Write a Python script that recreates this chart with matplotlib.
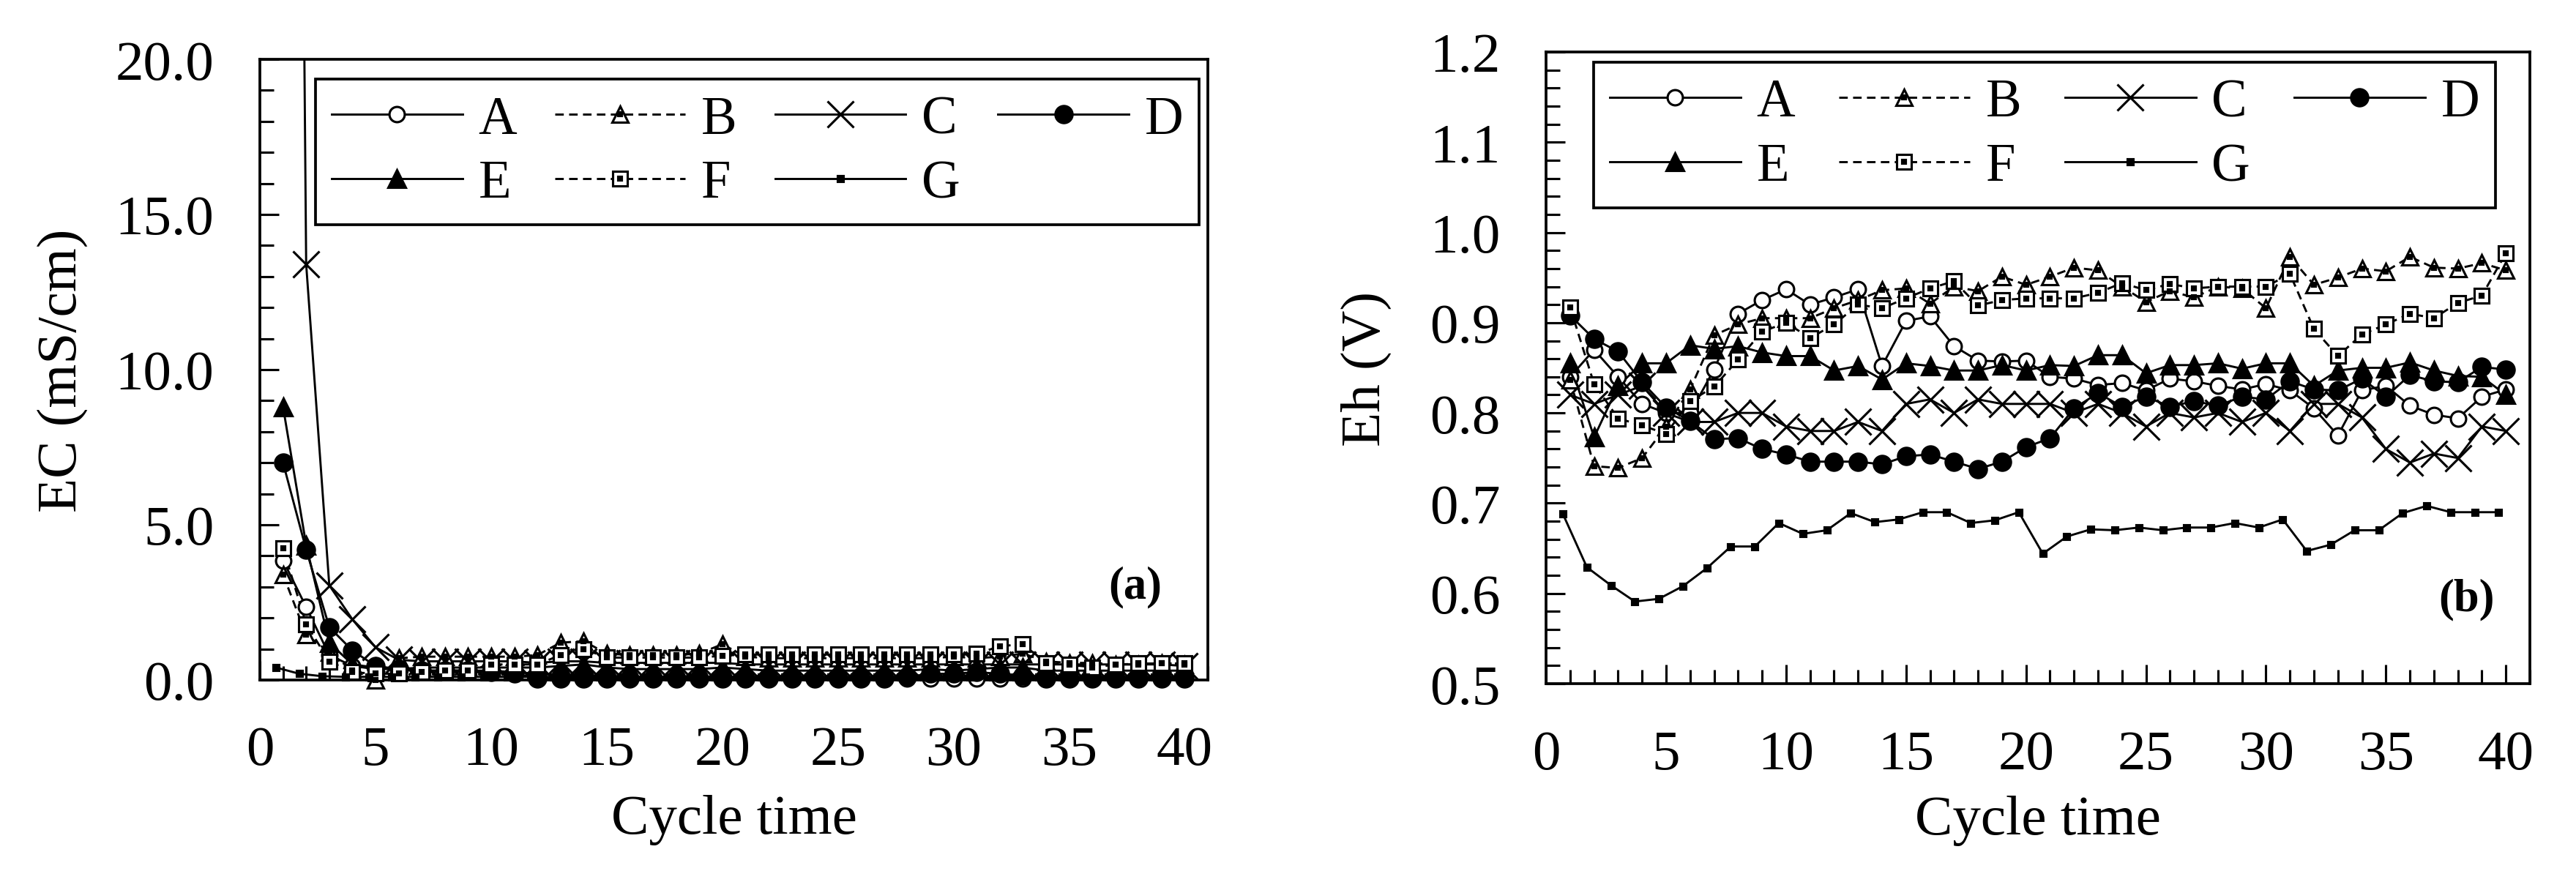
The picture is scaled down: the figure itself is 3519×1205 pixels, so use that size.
import numpy as np
import matplotlib
matplotlib.use("Agg")
import matplotlib.pyplot as plt
from matplotlib.lines import Line2D
from matplotlib.ticker import MultipleLocator, FormatStrFormatter

plt.rcParams["font.family"] = ["Liberation Serif", "DejaVu Serif"]

# ---------------------------------------------------------------- data
cycles = list(range(1, 41))
names = ["A", "B", "C", "D", "E", "F", "G"]

# (a) electrical conductivity, mS/cm
ec_A = [3.85, 2.35, 0.8, 0.45, 0.35, 0.35, 0.3, 0.3, 0.3, 0.3, 0.25, 0.2, 0.15, 0.15, 0.1,
        0.1, 0.1, 0.1, 0.1, 0.1, 0.1, 0.05, 0.05, 0.05, 0.05, 0.05, 0.05, 0.05, 0.05, 0.05,
        0.05, 0.05, 0.05, 0.05, 0.05, 0.05, 0.05, 0.05, 0.05, 0.05]
ec_B = [3.4, 1.45, 0.9, 0.3, 0.0, 0.7, 0.75, 0.75, 0.75, 0.75, 0.75, 0.8, 1.2, 1.25, 0.85,
        0.8, 0.8, 0.8, 0.85, 1.15, 0.75, 0.7, 0.7, 0.7, 0.7, 0.7, 0.7, 0.7, 0.7, 0.75,
        0.7, 0.75, 0.85, 0.6, 0.55, 0.55, 0.5, 0.5, 0.55, 0.5]
ec_C = [100.0, 13.4, 3.05, 1.95, 1.05, 0.65, 0.6, 0.6, 0.6, 0.6, 0.6, 0.55, 0.6, 0.6, 0.55,
        0.55, 0.55, 0.55, 0.55, 0.55, 0.5, 0.5, 0.5, 0.5, 0.5, 0.5, 0.5, 0.5, 0.5, 0.5,
        0.5, 0.5, 0.5, 0.5, 0.5, 0.5, 0.5, 0.5, 0.5, 0.45]
ec_D = [7.0, 4.2, 1.7, 0.95, 0.45, 0.35, 0.3, 0.3, 0.3, 0.25, 0.2, 0.05, 0.05, 0.05, 0.05,
        0.05, 0.05, 0.05, 0.05, 0.05, 0.05, 0.05, 0.05, 0.05, 0.05, 0.05, 0.05, 0.1, 0.2, 0.2,
        0.25, 0.2, 0.15, 0.05, 0.05, 0.05, 0.05, 0.05, 0.05, 0.05]
ec_E = [8.8, 4.35, 1.2, 0.5, 0.4, 0.35, 0.4, 0.4, 0.4, 0.4, 0.4, 0.4, 0.45, 0.5, 0.4,
        0.35, 0.35, 0.35, 0.35, 0.4, 0.35, 0.3, 0.3, 0.3, 0.3, 0.3, 0.3, 0.3, 0.35, 0.3,
        0.35, 0.4, 0.4, 0.3, 0.3, 0.3, 0.3, 0.3, 0.3, 0.3]
ec_F = [4.25, 1.8, 0.6, 0.25, 0.2, 0.2, 0.25, 0.3, 0.3, 0.5, 0.5, 0.5, 0.8, 1.0, 0.72,
        0.72, 0.72, 0.72, 0.72, 0.78, 0.82, 0.82, 0.82, 0.82, 0.82, 0.82, 0.82, 0.82, 0.82, 0.82,
        0.85, 1.08, 1.16, 0.53, 0.49, 0.41, 0.49, 0.53, 0.53, 0.53]
ec_G = [0.4, 0.2, 0.12, 0.1, 0.1, 0.1, 0.1, 0.1, 0.1, 0.1, 0.1, 0.1, 0.1, 0.1, 0.1,
        0.1, 0.1, 0.1, 0.1, 0.1, 0.1, 0.1, 0.1, 0.1, 0.1, 0.1, 0.1, 0.1, 0.1, 0.1,
        0.1, 0.1, 0.1, 0.1, 0.1, 0.1, 0.1, 0.1, 0.1, 0.1]

# (b) redox potential, V
eh_A = [0.84, 0.87, 0.84, 0.81, 0.80, 0.80, 0.848, 0.91, 0.925, 0.937, 0.92, 0.928, 0.937, 0.852, 0.902,
        0.907, 0.874, 0.858, 0.857, 0.858, 0.84, 0.838, 0.831, 0.833, 0.825, 0.838, 0.835, 0.83, 0.826, 0.832,
        0.825, 0.805, 0.775, 0.825, 0.83, 0.808, 0.798, 0.794, 0.818, 0.826]
eh_B = [0.837, 0.741, 0.739, 0.75, 0.785, 0.826, 0.886, 0.898, 0.905, 0.905, 0.905, 0.916, 0.925, 0.936, 0.938,
        0.921, 0.94, 0.935, 0.951, 0.942, 0.951, 0.961, 0.958, 0.94, 0.923, 0.935, 0.928, 0.94, 0.938, 0.916,
        0.973, 0.942, 0.95, 0.96, 0.957, 0.973, 0.961, 0.96, 0.966, 0.958]
eh_C = [0.82, 0.81, 0.82, 0.83, 0.80, 0.79, 0.79, 0.80, 0.80, 0.785, 0.78, 0.78, 0.79, 0.78, 0.81,
        0.815, 0.80, 0.815, 0.81, 0.81, 0.81, 0.80, 0.81, 0.80, 0.785, 0.80, 0.795, 0.80, 0.79, 0.80,
        0.78, 0.81, 0.81, 0.795, 0.76, 0.745, 0.755, 0.75, 0.785, 0.78]
eh_D = [0.908, 0.882, 0.868, 0.834, 0.806, 0.791, 0.771, 0.772, 0.76, 0.754, 0.746, 0.746, 0.746, 0.743, 0.752,
        0.754, 0.746, 0.738, 0.746, 0.762, 0.772, 0.805, 0.822, 0.807, 0.818, 0.807, 0.813, 0.808, 0.818, 0.815,
        0.835, 0.826, 0.825, 0.838, 0.818, 0.842, 0.835, 0.834, 0.851, 0.848]
eh_E = [0.855, 0.773, 0.83, 0.855, 0.855, 0.875, 0.871, 0.874, 0.867, 0.863, 0.863, 0.847, 0.852, 0.837, 0.855,
        0.852, 0.847, 0.847, 0.853, 0.847, 0.853, 0.852, 0.864, 0.864, 0.844, 0.853, 0.853, 0.855, 0.849, 0.855,
        0.855, 0.83, 0.847, 0.85, 0.85, 0.856, 0.847, 0.841, 0.84, 0.82]
eh_F = [0.917, 0.832, 0.794, 0.786, 0.777, 0.813, 0.829, 0.859, 0.89, 0.90, 0.883, 0.898, 0.92, 0.916, 0.927,
        0.938, 0.946, 0.919, 0.925, 0.927, 0.927, 0.927, 0.933, 0.944, 0.936, 0.943, 0.938, 0.94, 0.94, 0.94,
        0.954, 0.893, 0.863, 0.887, 0.898, 0.91, 0.905, 0.922, 0.93, 0.977]
eh_G = [0.688, 0.629, 0.609, 0.591, 0.594, 0.608, 0.628, 0.652, 0.652, 0.678, 0.666, 0.670, 0.689, 0.679, 0.682,
        0.69, 0.69, 0.678, 0.681, 0.69, 0.644, 0.663, 0.671, 0.67, 0.673, 0.67, 0.673, 0.673, 0.678, 0.673,
        0.682, 0.647, 0.654, 0.670, 0.67, 0.689, 0.697, 0.69, 0.69, 0.69]

ec = [ec_A, ec_B, ec_C, ec_D, ec_E, ec_F, ec_G]
eh = [eh_A, eh_B, eh_C, eh_D, eh_E, eh_F, eh_G]

# ---------------------------------------------------------------- styles
LW = 0.7
DASH = (0, (4, 2.5))
STY = {
    "A": dict(marker="o", mfc="white", ms=5.0, ls="-", dot=False),
    "B": dict(marker="^", mfc="white", ms=5.2, ls=DASH, dot=True),
    "C": dict(marker="x", mfc="black", ms=8.5, ls="-", dot=False),
    "D": dict(marker="o", mfc="black", ms=5.6, ls="-", dot=False),
    "E": dict(marker="^", mfc="black", ms=5.6, ls="-", dot=False),
    "F": dict(marker="s", mfc="white", ms=4.8, ls=DASH, dot=True),
    "G": dict(marker="s", mfc="black", ms=1.8, ls="-", dot=False),
}
XSHIFT = {"G": -0.3}   # G series sits a little left of the others in the original
FS_TICK = 18.5
FS_LAB = 18.5
FS_LEG = 17.5


def draw_panel(ax, series, ymax):
    handles = {}
    for name, ys in zip(names, series):
        s = STY[name]
        xs = np.array(cycles, dtype=float) + XSHIFT.get(name, 0.0)
        ys = np.array(ys, dtype=float)
        ax.plot(xs, ys, color="black", lw=LW, ls=s["ls"], zorder=2)
        keep = ys <= ymax
        mk = dict(marker=s["marker"], ms=s["ms"], mfc=s["mfc"], mec="black", mew=0.75)
        ax.plot(xs[keep], ys[keep], ls="none", color="black", clip_on=False, zorder=3, **mk)
        h = Line2D([], [], color="black", lw=LW, ls=s["ls"], **mk)
        if s["dot"]:
            ax.plot(xs[keep], ys[keep], ls="none", marker="s", ms=0.9, color="black",
                    clip_on=False, zorder=4)
            h = (h, Line2D([], [], ls="none", marker="s", ms=0.9, color="black"))
        handles[name] = h
    return handles


def style_axes(ax, xlab_y):
    for sp in ax.spines.values():
        sp.set_linewidth(0.9)
    ax.tick_params(which="both", direction="in", top=False, right=False,
                   labelsize=FS_TICK, pad=15, width=0.75)
    ax.tick_params(which="major", length=6.3)
    ax.tick_params(which="minor", length=4.5)
    ax.set_xlim(0, 41)
    ax.xaxis.set_major_locator(MultipleLocator(5))
    ax.xaxis.set_minor_locator(MultipleLocator(1))
    ax.set_xlabel("Cycle time", fontsize=FS_LAB, va="center")
    ax.xaxis.set_label_coords(0.5, xlab_y)


def add_legend(ax, handles, x0, x1, y1):
    order = ["A", "E", "B", "F", "C", "G", "D"]
    leg = ax.legend([handles[n] for n in order], order, ncol=4,
                    loc="upper left", bbox_to_anchor=(x0, y1, x1 - x0, 0), mode="expand",
                    borderaxespad=0.0, fontsize=FS_LEG, handlelength=2.45, handletextpad=0.3,
                    columnspacing=0.6, labelspacing=0.28, borderpad=0.3,
                    frameon=True, fancybox=False, framealpha=1.0, edgecolor="black")
    leg.get_frame().set_linewidth(0.9)
    return leg


fig = plt.figure(figsize=(11.73, 4.02), dpi=300)

# ---------------------------------------------------------------- (a)
ax_a = fig.add_axes([0.1009, 0.2289, 0.368, 0.7031])
h_a = draw_panel(ax_a, ec, 20.0)
style_axes(ax_a, -0.225)
ax_a.set_ylim(0, 20)
ax_a.yaxis.set_major_locator(MultipleLocator(5))
ax_a.yaxis.set_minor_locator(MultipleLocator(1))
ax_a.yaxis.set_major_formatter(FormatStrFormatter("%.1f"))
ax_a.set_ylabel("EC (mS/cm)", fontsize=FS_LAB, va="center")
ax_a.yaxis.set_label_coords(-0.208, 0.5)
add_legend(ax_a, h_a, 0.0587, 0.991, 0.968)
ax_a.text(0.9236, 0.150, "(a)", transform=ax_a.transAxes, ha="center", va="center",
          fontsize=15, fontweight="bold")

# ---------------------------------------------------------------- (b)
ax_b = fig.add_axes([0.6002, 0.2247, 0.3819, 0.7156])
h_b = draw_panel(ax_b, eh, 1.2)
style_axes(ax_b, -0.216)
ax_b.set_ylim(0.5, 1.2)
ax_b.yaxis.set_major_locator(MultipleLocator(0.1))
ax_b.yaxis.set_minor_locator(MultipleLocator(0.02))
ax_b.yaxis.set_major_formatter(FormatStrFormatter("%.1f"))
ax_b.set_ylabel("Eh (V)", fontsize=FS_LAB, va="center")
ax_b.yaxis.set_label_coords(-0.1826, 0.5)
add_legend(ax_b, h_b, 0.0484, 0.965, 0.984)
ax_b.text(0.936, 0.134, "(b)", transform=ax_b.transAxes, ha="center", va="center",
          fontsize=15, fontweight="bold")

fig.savefig("out.png", dpi=300)
